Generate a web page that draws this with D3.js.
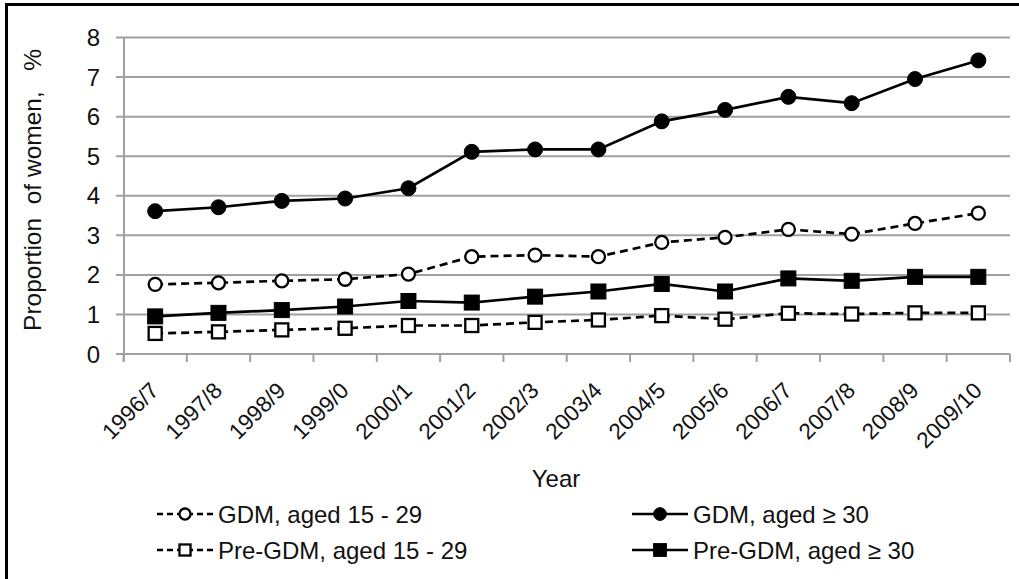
<!DOCTYPE html>
<html><head><meta charset="utf-8">
<script src="https://cdn.jsdelivr.net/npm/d3@7"></script>
<style>html,body{margin:0;padding:0;background:#fff;} svg{display:block;} text{font-family:"Liberation Sans",Arial,sans-serif;fill:#111;}</style>
</head><body><svg id="c" width="1019" height="579"></svg>
<script>
const categories = ["1996/7","1997/8","1998/9","1999/0","2000/1","2001/2","2002/3","2003/4","2004/5","2005/6","2006/7","2007/8","2008/9","2009/10"];
const gdmYoung = [1.76,1.80,1.85,1.89,2.02,2.46,2.50,2.46,2.82,2.95,3.15,3.03,3.30,3.56];
const gdmOld = [3.61,3.71,3.87,3.93,4.19,5.11,5.17,5.17,5.88,6.17,6.50,6.34,6.95,7.42];
const preYoung = [0.52,0.56,0.61,0.65,0.72,0.72,0.80,0.86,0.97,0.88,1.03,1.01,1.04,1.04];
const preOld = [0.95,1.04,1.11,1.20,1.34,1.30,1.45,1.58,1.77,1.58,1.91,1.85,1.95,1.95];
const yTicks = [0,1,2,3,4,5,6,7,8];
const seriesNames = ["GDM, aged 15 - 29","GDM, aged \u2265 30","Pre-GDM, aged 15 - 29","Pre-GDM, aged \u2265 30"];

const series = [
  {name:seriesNames[0], values:gdmYoung, dashed:true, shape:"circle", filled:false},
  {name:seriesNames[1], values:gdmOld, dashed:false, shape:"circle", filled:true},
  {name:seriesNames[2], values:preYoung, dashed:true, shape:"square", filled:false},
  {name:seriesNames[3], values:preOld, dashed:false, shape:"square", filled:true}
];

const svg = d3.select("#c");
const L = 123.5, R = 1010, T = 37.5, B = 354;
const x = d3.scaleBand().domain(categories).range([L, R]);
const y = d3.scaleLinear().domain([0, 8]).range([B, T]);
const cx = d => x(d) + x.bandwidth()/2;

// frame
svg.append("line").attr("x1",5).attr("x2",1019).attr("y1",4.5).attr("y2",4.5).attr("stroke","#000").attr("stroke-width",3);
svg.append("line").attr("x1",6.5).attr("x2",6.5).attr("y1",3).attr("y2",579).attr("stroke","#000").attr("stroke-width",3);

const grid = "#a0a0a0";
svg.append("g").selectAll("line").data(yTicks).join("line")
  .attr("x1",116).attr("x2",R).attr("y1",d=>y(d)).attr("y2",d=>y(d))
  .attr("stroke",grid).attr("stroke-width",2);
svg.append("line").attr("x1",L+0.5).attr("x2",L+0.5).attr("y1",T).attr("y2",B+7).attr("stroke",grid).attr("stroke-width",2);
const bounds = categories.map(c => x(c)).concat([R]);
svg.append("g").selectAll("line").data(bounds).join("line")
  .attr("x1",d=>d).attr("x2",d=>d).attr("y1",B).attr("y2",B+8)
  .attr("stroke",grid).attr("stroke-width",2);

// y tick labels
svg.append("g").selectAll("text").data(yTicks).join("text")
  .attr("x",100).attr("y",d=>y(d)+8.5).attr("text-anchor","end")
  .style("font-size","24px").text(d=>d);

// x tick labels
svg.append("g").selectAll("text").data(categories).join("text")
  .attr("transform",d=>`translate(${cx(d)+5},${392}) rotate(-45)`)
  .attr("text-anchor","end").style("font-size","22.5px").text(d=>d);

// axis titles
svg.append("text").attr("transform","translate(41,190) rotate(-90)").attr("text-anchor","middle")
  .style("font-size","24.5px").style("white-space","pre").attr("xml:space","preserve")
  .text("Proportion  of women,   %");
svg.append("text").attr("x",556).attr("y",487).attr("text-anchor","middle").style("font-size","24px").text("Year");

const line = d3.line().x((d,i)=>cx(categories[i])).y(d=>y(d));
function drawMarker(g, shape, filled, px, py, sc){
  sc = sc || 1;
  if(shape==="circle"){
    g.append("circle").attr("cx",px).attr("cy",py).attr("r",(filled?7.5:6.5)*sc)
      .attr("fill",filled?"#000":"#fff").attr("stroke","#000").attr("stroke-width",filled?1:2.3);
  } else {
    const s = (filled?15:13)*sc;
    g.append("rect").attr("x",px-s/2).attr("y",py-s/2).attr("width",s).attr("height",s)
      .attr("fill",filled?"#000":"#fff").attr("stroke","#000").attr("stroke-width",filled?1:2.3);
  }
}
series.forEach(s=>{
  const g = svg.append("g");
  g.append("path").datum(s.values).attr("d",line).attr("fill","none").attr("stroke","#000")
    .attr("stroke-width",2.7).attr("stroke-dasharray",s.dashed?"8,5":null);
  s.values.forEach((v,i)=>drawMarker(g, s.shape, s.filled, cx(categories[i]), y(v)));
});

// legend
const legPos = [{lx:157, ly:514},{lx:632, ly:514},{lx:157, ly:550},{lx:632, ly:550}];
series.forEach((s,i)=>{
  const p = legPos[i];
  const g = svg.append("g");
  g.append("line").attr("x1",p.lx).attr("x2",p.lx+56).attr("y1",p.ly).attr("y2",p.ly)
    .attr("stroke","#000").attr("stroke-width",2.7).attr("stroke-dasharray",s.dashed?"6,4":null);
  drawMarker(g, s.shape, s.filled, p.lx+28, p.ly, 0.85);
  g.append("text").attr("x",p.lx+61).attr("y",p.ly+8.5).style("font-size","24px").text(s.name);
});
</script></body></html>
